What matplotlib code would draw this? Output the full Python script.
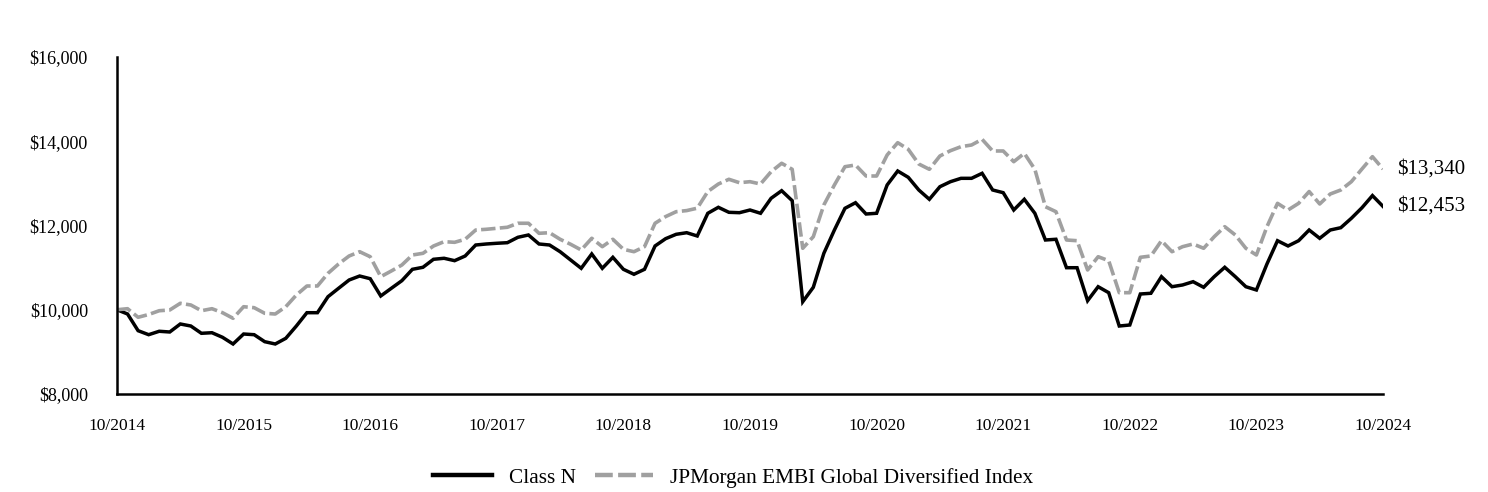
import matplotlib.pyplot as plt
import matplotlib.ticker as mticker
import numpy as np

plt.rcParams['font.family'] = ['Liberation Serif', 'DejaVu Serif']

# monthly values, 10/2014 .. 10/2024
class_n = [
    10000, 9899, 9503, 9408, 9489, 9472, 9662, 9614, 9441, 9455, 9346, 9187,
    9424, 9408, 9242, 9187, 9322, 9614, 9930, 9930, 10310, 10509, 10706, 10801,
    10737, 10327, 10509, 10690, 10960, 11008, 11198, 11222, 11165, 11276, 11537, 11561,
    11578, 11592, 11720, 11775, 11561, 11537, 11378, 11181, 10984, 11324, 10984, 11245,
    10960, 10842, 10960, 11514, 11687, 11791, 11829, 11751, 12290, 12432, 12313, 12304,
    12368, 12290, 12646, 12826, 12589, 10191, 10533, 11340, 11893, 12408, 12541, 12273,
    12290, 12962, 13294, 13144, 12843, 12622, 12921, 13040, 13120, 13120, 13239, 12843,
    12779, 12368, 12622, 12290, 11656, 11673, 10998, 10998, 10215, 10547, 10405, 9614,
    9638, 10374, 10391, 10785, 10547, 10588, 10666, 10533, 10785, 11008, 10785, 10547,
    10469, 11086, 11639, 11514, 11639, 11893, 11696, 11893, 11948, 12171, 12420, 12710,
    12453,
]
embi = [
    10000, 10025, 9821, 9887, 9977, 9994, 10153, 10113, 9977, 10025, 9930, 9797,
    10072, 10049, 9916, 9899, 10072, 10350, 10564, 10564, 10865, 11086, 11276, 11378,
    11259, 10785, 10920, 11062, 11300, 11340, 11513, 11616, 11601, 11673, 11893, 11910,
    11934, 11958, 12053, 12053, 11815, 11829, 11673, 11554, 11419, 11696, 11497, 11673,
    11435, 11378, 11497, 12053, 12211, 12328, 12354, 12411, 12806, 12985, 13097, 13016,
    13040, 12985, 13277, 13477, 13334, 11459, 11734, 12487, 12962, 13396, 13436, 13175,
    13175, 13674, 13966, 13809, 13460, 13334, 13650, 13776, 13871, 13911, 14046, 13769,
    13769, 13515, 13713, 13334, 12446, 12328, 11656, 11639, 10944, 11259, 11164, 10405,
    10405, 11245, 11276, 11639, 11378, 11497, 11561, 11459, 11734, 11972, 11775, 11459,
    11300, 11972, 12526, 12368, 12526, 12806, 12511, 12748, 12843, 13040, 13340, 13634,
    13340,
]
tick_labels = ['10/2014', '10/2015', '10/2016', '10/2017', '10/2018', '10/2019',
               '10/2020', '10/2021', '10/2022', '10/2023', '10/2024']
end_labels = ['$12,453', '$13,340']

x = np.arange(len(class_n))

fig = plt.figure(figsize=(14.88, 4.92), dpi=100)
ax = fig.add_axes([117 / 1488, 1 - 394 / 492, (1383 - 117) / 1488, (394 - 57) / 492])

ax.plot(x, class_n, color='black', lw=2.5, label='Class N', solid_joinstyle='miter')
ax.plot(x, embi, color='#a0a0a0', lw=2.6, dashes=(4, 1.2),
        label='JPMorgan EMBI Global Diversified Index')

ax.set_xlim(0, 120)
ax.set_ylim(8000, 16000)
ax.set_xticks(np.arange(0, 121, 12))
ax.set_xticklabels(tick_labels)
ax.set_yticks(np.arange(8000, 16001, 2000))
ax.yaxis.set_major_formatter(mticker.FuncFormatter(lambda v, p: '${:,.0f}'.format(v)))
ax.tick_params(axis='x', length=0, labelsize=12.5, pad=17)
ax.tick_params(axis='y', length=0, labelsize=13, pad=21)

for s in ['top', 'right']:
    ax.spines[s].set_visible(False)
for s in ['left', 'bottom']:
    ax.spines[s].set_linewidth(1.8)

ax.annotate(end_labels[0], (x[-1], class_n[-1]), xytext=(10, 0), textcoords='offset points',
            va='center', ha='left', fontsize=15)
ax.annotate(end_labels[1], (x[-1], embi[-1]), xytext=(10, 0), textcoords='offset points',
            va='center', ha='left', fontsize=15)

leg = ax.legend(loc='center', bbox_to_anchor=(0.487, -0.248), ncol=2, frameon=False,
                fontsize=15.3, handlelength=2.75, columnspacing=0.9, handletextpad=0.8)
for h in leg.get_lines():
    h.set_linewidth(3.2)

fig.savefig('out.png', dpi=100)
